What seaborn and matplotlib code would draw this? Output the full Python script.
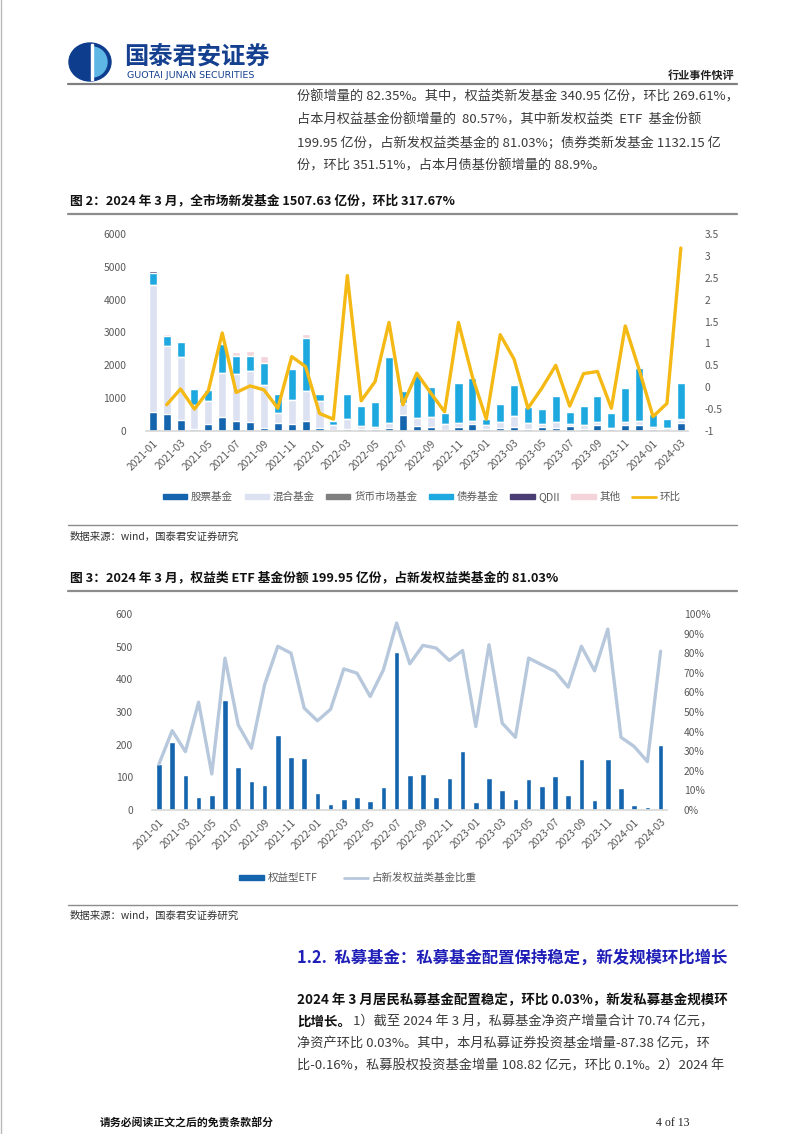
import numpy as np
import matplotlib
matplotlib.use("Agg")
import matplotlib.pyplot as plt
import seaborn as sns
from matplotlib.patches import Rectangle, Ellipse, Wedge
from matplotlib.lines import Line2D
from matplotlib.ticker import FuncFormatter

# ---------------- data ----------------
months = ["2021-01", "2021-02", "2021-03", "2021-04", "2021-05", "2021-06", "2021-07", "2021-08",
          "2021-09", "2021-10", "2021-11", "2021-12", "2022-01", "2022-02", "2022-03", "2022-04",
          "2022-05", "2022-06", "2022-07", "2022-08", "2022-09", "2022-10", "2022-11", "2022-12",
          "2023-01", "2023-02", "2023-03", "2023-04", "2023-05", "2023-06", "2023-07", "2023-08",
          "2023-09", "2023-10", "2023-11", "2023-12", "2024-01", "2024-02", "2024-03"]

stock = [580, 510, 350, 50, 220, 430, 290, 270, 100, 250, 200, 300,
         100, 20, 60, 50, 50, 90, 500, 140, 110, 40, 120, 220,
         50, 100, 130, 70, 120, 90, 140, 70, 190, 50, 180, 180,
         50, 40, 240]
mixed = [3870, 2080, 1910, 730, 680, 1340, 1440, 1560, 1300, 300, 740, 920,
         800, 160, 300, 110, 70, 150, 340, 260, 310, 160, 130, 80,
         120, 170, 320, 170, 100, 170, 80, 110, 70, 50, 90, 120,
         70, 40, 110]
money = [10, 5, 5, 5, 5, 5, 5, 5, 5, 5, 5, 5,
         5, 5, 5, 5, 5, 5, 5, 5, 5, 5, 5, 5,
         5, 5, 5, 5, 5, 5, 5, 5, 5, 5, 5, 5,
         5, 5, 5]
bond = [360, 300, 440, 490, 340, 880, 550, 450, 660, 570, 930, 1600,
        220, 120, 760, 590, 770, 2000, 380, 1300, 920, 350, 1220, 1320,
        180, 560, 950, 490, 430, 800, 360, 570, 800, 430, 1020, 1600,
        390, 270, 1120]
qdii = [50, 10, 50, 5, 30, 5, 5, 5, 5, 5, 5, 5,
        5, 5, 5, 5, 5, 5, 5, 5, 5, 5, 5, 5,
        5, 5, 5, 5, 5, 5, 5, 5, 5, 5, 5, 5,
        5, 5, 5]
other = [20, 40, 0, 40, 0, 0, 110, 150, 220, 0, 50, 130,
         30, 0, 0, 0, 0, 0, 0, 0, 0, 0, 0, 0,
         0, 0, 0, 0, 0, 0, 0, 0, 0, 0, 0, 0,
         0, 0, 0]
mom = [np.nan, -0.40, -0.04, -0.50, -0.08, 1.24, -0.12, 0.03, -0.06, -0.48, 0.70, 0.47,
       -0.60, -0.73, 2.55, -0.31, 0.13, 1.48, -0.40, 0.32, -0.13, -0.56, 1.48, 0.24,
       -0.73, 1.20, 0.64, -0.48, -0.02, 0.50, -0.43, 0.31, 0.36, -0.48, 1.40, 0.40,
       -0.67, -0.37, 3.18]

etf = [141, 208, 107, 41, 46, 337, 132, 90, 76, 231, 161, 158,
       52, 18, 35, 39, 28, 71, 484, 106, 110, 41, 97, 182,
       26, 97, 61, 33, 94, 73, 105, 45, 157, 30, 156, 67,
       15, 10, 200]
etf_share = [23.5, 40.5, 29.8, 55.0, 18.4, 77.5, 43.4, 31.5, 63.9, 83.5, 80.0, 52.0,
             45.5, 51.4, 72.0, 69.8, 57.9, 71.5, 95.4, 74.6, 84.0, 82.6, 76.3, 81.4,
             42.6, 84.3, 44.3, 37.1, 77.5, 74.1, 70.7, 62.7, 83.5, 71.0, 92.3, 37.1,
             32.4, 24.7, 81.0]

layer_names = ["股票基金", "混合基金", "货币市场基金", "债券基金", "QDII", "其他"]
layer_colors = ["#1464AE", "#DCE2F1", "#7F7F7F", "#1EA8E0", "#4A3D74", "#F3D4DA"]
line_name = "环比"
line_color = "#F4B915"

# ---------------- style ----------------
sns.set_theme(style="white")
plt.rcParams['font.family'] = ['Noto Sans CJK SC', 'DejaVu Sans']
plt.rcParams['axes.unicode_minus'] = False

W, H = 802, 1134
fig = plt.figure(figsize=(W / 100, H / 100), dpi=100)
fig.patch.set_facecolor("white")

page = fig.add_axes([0, 0, 1, 1], zorder=-5)
page.set_xlim(0, W)
page.set_ylim(H, 0)
page.axis("off")

def ax_rect(x0, x1, ytop, ybot):
    return [x0 / W, 1 - ybot / H, (x1 - x0) / W, (ybot - ytop) / H]

tick_col = "#595959"
txt_col = "#3A3A3A"

# ---------------- header ----------------
page.plot([1, 1], [0, H], color="#BBBBBB", lw=1)
page.add_patch(Ellipse((90, 62), 42, 38, color="#0E3D8E"))
page.add_patch(Wedge((92, 62), 15, -90, 90, color="#5DB6E4"))
page.add_patch(Rectangle((90.5, 44), 2.5, 36, color="white"))
page.text(124, 56.5, "国泰君安证券", fontsize=17.5, fontweight="bold", color="#15408F", va="center", ha="left")
page.text(127, 75.5, "GUOTAI JUNAN SECURITIES", fontsize=6.8, color="#15408F", va="center", ha="left",
          family=["DejaVu Sans"])
page.text(735, 75, "行业事件快评", fontsize=8, fontweight="bold", color="#222222", va="center", ha="right")
page.plot([68, 737], [83.5, 83.5], color="#7F7F7F", lw=1.6)

body = ["份额增量的 82.35%。其中，权益类新发基金 340.95 亿份，环比 269.61%，",
        "占本月权益基金份额增量的  80.57%，其中新发权益类  ETF  基金份额",
        "199.95 亿份，占新发权益类基金的 81.03%；债券类新发基金 1132.15 亿",
        "份，环比 351.51%，占本月债基份额增量的 88.9%。"]
for i, s in enumerate(body):
    page.text(297, 97 + 23 * i, s, fontsize=9.5, color=txt_col, va="center", ha="left")

page.text(70, 201, "图 2：2024 年 3 月，全市场新发基金 1507.63 亿份，环比 317.67%",
          fontsize=9.2, fontweight="bold", color="#111111", va="center", ha="left")
page.plot([68, 737], [213.5, 213.5], color="#8C8C8C", lw=1.6)

# ---------------- chart 1 ----------------
ax1 = fig.add_axes(ax_rect(145.8, 687.8, 234, 431))
stack = np.cumsum(np.array([stock, mixed, money, bond, qdii, other], dtype=float), axis=0)
for i in reversed(range(len(layer_names))):
    sns.barplot(x=months, y=stack[i], color=layer_colors[i], width=0.58, saturation=1,
                errorbar=None, ax=ax1, zorder=2)
ax1.set_xlim(-0.5, len(months) - 0.5)
ax1.set_ylim(0, 6000)
ax1.set_yticks(np.arange(0, 6001, 1000))
ax1.set_xticks(np.arange(0, len(months), 2))
ax1.set_xticklabels(months[::2], rotation=45, ha="right", va="top", rotation_mode="anchor")
ax1.set_xlabel("")
ax1.set_ylabel("")
ax1.tick_params(axis="both", length=0, labelsize=7.4, labelcolor=tick_col)
ax1.tick_params(axis="y", pad=14)
ax1.tick_params(axis="x", pad=5)
for s in ["top", "left", "right"]:
    ax1.spines[s].set_visible(False)
ax1.spines["bottom"].set_color("#D9D9D9")
ax1.grid(False)

ax1r = ax1.twinx()
sns.lineplot(x=np.arange(len(months)), y=mom, color=line_color, lw=2.4, ax=ax1r)
ax1r.set_ylim(-1, 3.5)
ax1r.set_yticks(np.arange(-1, 3.51, 0.5))
ax1r.yaxis.set_major_formatter(FuncFormatter(lambda v, p: ("%g" % round(v, 2))))
ax1r.tick_params(axis="y", length=0, labelsize=7.4, labelcolor=tick_col, pad=12)
ax1r.set_ylabel("")
for s in ax1r.spines.values():
    s.set_visible(False)
ax1r.grid(False)
ax1r.set_xlim(-0.5, len(months) - 0.5)

h1 = [Rectangle((0, 0), 1, 1, color=c) for c in layer_colors] + [Line2D([], [], color=line_color, lw=2)]
fig.legend(h1, layer_names + [line_name], loc="center", bbox_to_anchor=(422 / W, 1 - 497 / H),
           ncol=7, frameon=False, fontsize=7.6, handlelength=2.3, handleheight=0.45,
           columnspacing=1.1, handletextpad=0.35, labelcolor="#595959")

page.plot([68, 737], [525, 525], color="#8C8C8C", lw=1.0)
page.text(70, 537, "数据来源：wind，国泰君安证券研究", fontsize=7.5, color="#333333", va="center", ha="left")

# ---------------- chart 2 ----------------
page.text(70, 578, "图 3：2024 年 3 月，权益类 ETF 基金份额 199.95 亿份，占新发权益类基金的 81.03%",
          fontsize=9.2, fontweight="bold", color="#111111", va="center", ha="left")
page.plot([68, 737], [590.5, 590.5], color="#8C8C8C", lw=1.6)

ax2 = fig.add_axes(ax_rect(152.4, 667.2, 614, 810))
sns.barplot(x=months, y=etf, color="#1464AE", width=0.42, saturation=1, errorbar=None, ax=ax2, zorder=2)
ax2.set_xlim(-0.5, len(months) - 0.5)
ax2.set_ylim(0, 600)
ax2.set_yticks(np.arange(0, 601, 100))
ax2.set_xticks(np.arange(0, len(months), 2))
ax2.set_xticklabels(months[::2], rotation=45, ha="right", va="top", rotation_mode="anchor")
ax2.set_xlabel("")
ax2.set_ylabel("")
ax2.tick_params(axis="both", length=0, labelsize=7.4, labelcolor=tick_col)
ax2.tick_params(axis="y", pad=14)
ax2.tick_params(axis="x", pad=5)
for s in ["top", "left", "right"]:
    ax2.spines[s].set_visible(False)
ax2.spines["bottom"].set_color("#D9D9D9")
ax2.grid(False)

ax2r = ax2.twinx()
sns.lineplot(x=np.arange(len(months)), y=etf_share, color="#B7C8DC", lw=2.4, ax=ax2r)
ax2r.set_ylim(0, 100)
ax2r.set_yticks(np.arange(0, 101, 10))
ax2r.yaxis.set_major_formatter(FuncFormatter(lambda v, p: "%d%%" % round(v)))
ax2r.tick_params(axis="y", length=0, labelsize=7.4, labelcolor=tick_col, pad=12)
ax2r.set_ylabel("")
for s in ax2r.spines.values():
    s.set_visible(False)
ax2r.grid(False)
ax2r.set_xlim(-0.5, len(months) - 0.5)

h2 = [Rectangle((0, 0), 1, 1, color="#1464AE"), Line2D([], [], color="#B7C8DC", lw=2)]
fig.legend(h2, ["权益型ETF", "占新发权益类基金比重"], loc="center", bbox_to_anchor=(358 / W, 1 - 878 / H),
           ncol=2, frameon=False, fontsize=7.6, handlelength=2.3, handleheight=0.45,
           columnspacing=2.5, handletextpad=0.35, labelcolor="#595959")

page.plot([68, 737], [905, 905], color="#8C8C8C", lw=1.0)
page.text(70, 916, "数据来源：wind，国泰君安证券研究", fontsize=7.5, color="#333333", va="center", ha="left")

# ---------------- section ----------------
page.text(297, 958, "1.2.  私募基金：私募基金配置保持稳定，新发规模环比增长",
          fontsize=11.8, fontweight="bold", color="#1F1FB8", va="center", ha="left")
page.text(297, 1000, "2024 年 3 月居民私募基金配置稳定，环比 0.03%，新发私募基金规模环",
          fontsize=9.7, fontweight="bold", color="#111111", va="center", ha="left")
page.text(297, 1022, "比增长。", fontsize=9.7, fontweight="bold", color="#111111", va="center", ha="left")
page.text(353, 1022, "1）截至 2024 年 3 月，私募基金净资产增量合计 70.74 亿元，",
          fontsize=9.5, color=txt_col, va="center", ha="left")
page.text(297, 1044, "净资产环比 0.03%。其中，本月私募证券投资基金增量-87.38 亿元，环",
          fontsize=9.5, color=txt_col, va="center", ha="left")
page.text(297, 1066, "比-0.16%，私募股权投资基金增量 108.82 亿元，环比 0.1%。2）2024 年",
          fontsize=9.5, color=txt_col, va="center", ha="left")

# ---------------- footer ----------------
page.text(100, 1122, "请务必阅读正文之后的免责条款部分", fontsize=7.8, fontweight="bold",
          color="#111111", va="center", ha="left")
page.text(656, 1123, "4 of 13", fontsize=8.5, color="#222222", va="center", ha="left",
          family=["Liberation Serif", "DejaVu Serif"])

fig.savefig("out.png", dpi=100, facecolor="white")
